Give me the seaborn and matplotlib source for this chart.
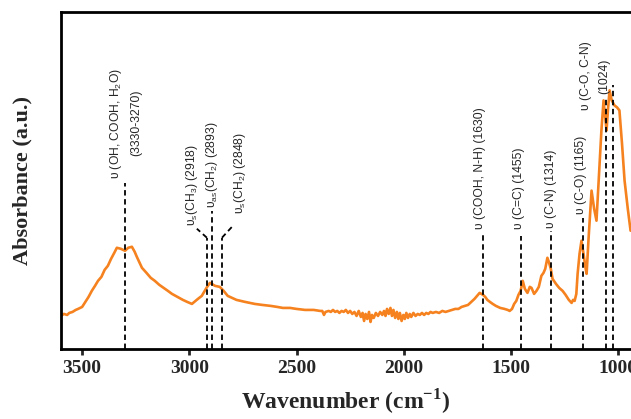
import pandas as pd
import seaborn as sns
import matplotlib.pyplot as plt

# FTIR spectrum (a.u., baseline = 0)
wavenumber = [3600, 3585, 3570, 3560, 3545, 3530, 3519, 3500, 3485, 3470,
              3455, 3440, 3426, 3410, 3395, 3380, 3365, 3350, 3338, 3320,
              3300, 3285, 3268, 3255, 3245, 3232, 3221, 3200, 3180, 3161,
              3140, 3120, 3100, 3081, 3055, 3030, 3010, 2988, 2960, 2942,
              2920, 2904, 2880, 2858, 2840, 2821, 2800, 2780, 2740, 2695,
              2660, 2620, 2590, 2564, 2530, 2500, 2460, 2420, 2390, 2380,
              2372, 2365, 2350, 2340, 2330, 2320, 2310, 2300, 2290, 2280,
              2270, 2260, 2250, 2240, 2230, 2220, 2210, 2200, 2192, 2185,
              2178, 2170, 2162, 2155, 2148, 2140, 2130, 2120, 2110, 2100,
              2092, 2085, 2078, 2070, 2062, 2055, 2048, 2040, 2032, 2025,
              2018, 2010, 2002, 1995, 1988, 1980, 1972, 1965, 1955, 1945,
              1935, 1925, 1915, 1905, 1895, 1885, 1875, 1865, 1850, 1835,
              1820, 1805, 1790, 1775, 1760, 1745, 1730, 1715, 1700, 1685,
              1670, 1658, 1646, 1638, 1630, 1620, 1610, 1598, 1585, 1570,
              1550, 1530, 1515, 1506, 1495, 1485, 1475, 1465, 1455, 1445,
              1435, 1423, 1412, 1404, 1392, 1381, 1370, 1358, 1348, 1340,
              1330, 1322, 1314, 1306, 1290, 1275, 1259, 1245, 1230, 1217,
              1210, 1203, 1195, 1189, 1180, 1171, 1165, 1160, 1153, 1147,
              1138, 1124, 1112, 1101, 1090, 1078, 1068, 1060, 1054, 1047,
              1040, 1030, 1017, 1005, 994, 982, 970, 955, 942]
absorbance = [33, 35, 34, 36, 37, 39, 40, 42, 47, 52,
              58, 63, 68, 72, 79, 83, 90, 96, 101, 100,
              98, 101, 102, 97, 92, 86, 81, 76, 71, 68,
              64, 61, 58, 55, 52, 49, 47, 45, 50, 53,
              61, 66, 63, 62, 58, 53, 51, 49, 47, 45,
              44, 43, 42, 41, 41, 40, 39, 39, 38, 38,
              34, 37, 38, 37, 39, 37, 38, 36, 38, 37,
              39, 36, 38, 35, 37, 33, 38, 32, 36, 28,
              35, 30, 37, 27, 34, 31, 36, 33, 37, 34,
              38, 33, 40, 35, 41, 33, 39, 31, 37, 30,
              36, 28, 34, 30, 36, 31, 35, 32, 36, 33,
              35, 34, 36, 34, 36, 35, 37, 36, 37, 36,
              38, 37, 38, 39, 40, 40, 42, 43, 44, 47,
              50, 53, 56, 55, 54, 52, 49, 47, 45, 43,
              41, 40, 39, 38, 40, 45, 48, 54, 58, 68,
              60, 56, 62, 61, 55, 58, 62, 73, 76, 80,
              91, 86, 80, 70, 65, 61, 58, 54, 49, 46,
              49, 48, 55, 75, 95, 108, 100, 93, 82, 75,
              110, 158, 140, 128, 170, 218, 248, 230, 218, 240,
              258, 248, 243, 241, 238, 205, 168, 140, 118]

# band assignments
band_pos = [3300, 2918, 2893, 2848, 1630, 1455, 1314, 1165, 1058, 1024]
band_top = [166, 111, 138, 111, 115, 113, 118, 131, 251, 263]

label_text = [r'υ (OH, COOH, H$_2$O)' + '\n(3330-3270)',
              r'$\mathrm{υ_{s}}$(CH$_3$) (2918)',
              r'$\mathrm{υ_{as}}$(CH$_2$) (2893)',
              r'$\mathrm{υ_{s}}$(CH$_2$) (2848)',
              'υ (COOH, N-H) (1630)',
              'υ (C=C) (1455)',
              'υ (C-N) (1314)',
              'υ (C-O) (1165)',
              'υ (C-O, C-N)\n(1024)']
label_x = [3300, 2988, 2895, 2764, 1644, 1464, 1314, 1174, 1108]
label_y = [170, 123, 141, 135, 120, 120, 121, 135, 238]

df = pd.DataFrame({'wn': wavenumber, 'abs': absorbance})

sns.set_style('white')
plt.rcParams['font.family'] = ['Liberation Sans', 'DejaVu Sans']
plt.rcParams['mathtext.fontset'] = 'custom'
plt.rcParams['mathtext.rm'] = 'Liberation Sans'
plt.rcParams['mathtext.it'] = 'Liberation Sans:italic'
plt.rcParams['mathtext.bf'] = 'Liberation Serif:bold'

fig = plt.figure(figsize=(6.31, 4.19), dpi=100)
ax = fig.add_axes([0.0962, 0.167, 0.9038, 0.804])

sns.lineplot(data=df, x='wn', y='abs', color='#f5821f', linewidth=1.9, ax=ax)

dash = (0, (3, 2))
for x, top in zip(band_pos, band_top):
    ax.plot([x, x], [0, top], color='black', lw=1.3, ls=dash, zorder=3)
# bent leaders for the CH bands
ax.plot([2918, 2965], [111, 120], color='black', lw=1.3, ls=dash)
ax.plot([2848, 2792], [111, 124], color='black', lw=1.3, ls=dash)

for t, x, y in zip(label_text, label_x, label_y):
    ax.text(x, y, t, rotation=90, ha='center', va='bottom', fontsize=8.7,
            multialignment='center', linespacing=1.65)

ax.set_xlim(3600, 940)
ax.set_ylim(0, 336)
ax.set_xticks([3500, 3000, 2500, 2000, 1500, 1000])
ax.set_yticks([])
serif = {'family': 'Liberation Serif', 'weight': 'bold'}
for lab in ax.get_xticklabels():
    lab.set_fontfamily('Liberation Serif')
    lab.set_fontweight('bold')
    lab.set_fontsize(14)
ax.tick_params(axis='x', direction='out', length=4, width=2, pad=4, bottom=True)
ax.set_xlabel(r'Wavenumber (cm$^{\mathbf{-1}}$)', fontsize=17, labelpad=7, **serif)
ax.set_ylabel('Absorbance (a.u.)', fontsize=16, labelpad=20, **serif)

for s in ['left', 'bottom', 'top']:
    ax.spines[s].set_linewidth(2)
    ax.spines[s].set_color('black')
ax.spines['right'].set_visible(False)

plt.savefig('out.png', dpi=100)
